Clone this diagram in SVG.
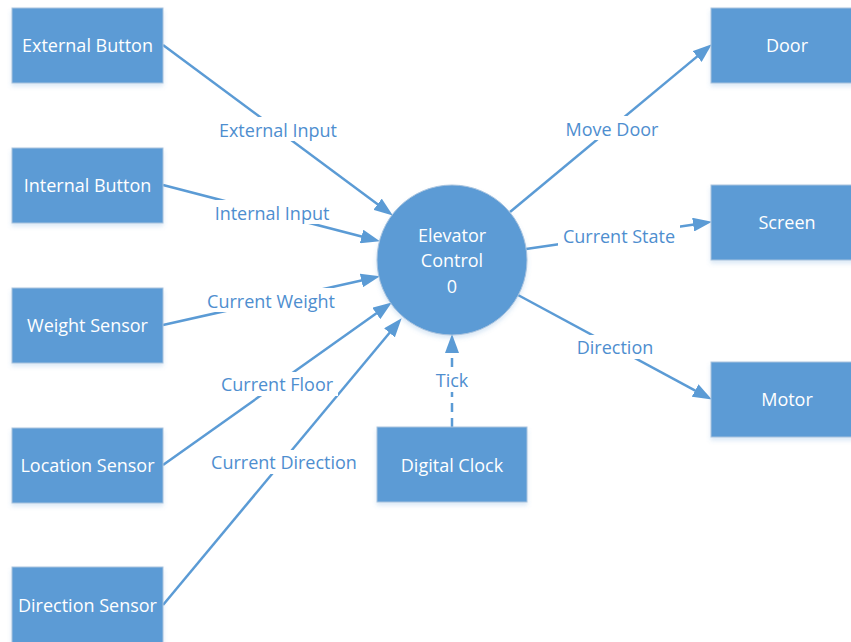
<svg xmlns="http://www.w3.org/2000/svg" width="851" height="642" viewBox="0 0 851 642">
  <defs>
    <filter id="shadow" x="-10%" y="-10%" width="120%" height="130%">
      <feDropShadow dx="0" dy="3" stdDeviation="2" flood-color="#5B9BD5" flood-opacity="0.22"/>
    </filter>
    <marker id="arrow" markerUnits="userSpaceOnUse" markerWidth="19" markerHeight="14" refX="8" refY="7" orient="auto">
      <path d="M0,0 L19,7 L0,14 z" fill="#5B9BD5"/>
    </marker>
  </defs>
  <style>
    .box { fill: #5B9BD5; stroke: #A9C3DE; stroke-width: 1; filter: url(#shadow); }
    .proc { fill: #5B9BD5; stroke: #A9C3DE; stroke-width: 1; filter: url(#shadow); }
    .ntext { font-family: "Open Sans", "Liberation Sans", Arial, sans-serif; font-size: 18px; fill: #FFFFFF; text-anchor: middle; }
    .flow { fill: none; stroke: #5B9BD5; stroke-width: 2.5; marker-end: url(#arrow); }
    .dash { stroke-dasharray: 9 6; }
    .lbg { fill: #FFFFFF; }
    .ltext { font-family: "Open Sans", "Liberation Sans", Arial, sans-serif; font-size: 18px; fill: #4E8ECF; text-anchor: middle; }
  </style>
  <rect width="851" height="642" fill="#FFFFFF"/>

  <!-- data flows -->
  <g id="connectors">
    <path class="flow" d="M163,45 L384,209"/>
    <path class="flow" d="M163,185 L369.3,238.5"/>
    <path class="flow" d="M163,325 L369.2,278.7"/>
    <path class="flow" d="M163,465 L382.8,308.8"/>
    <path class="flow" d="M163,605 L394.6,326.7"/>
    <path class="flow dash" d="M452,427 L452,345"/>
    <path class="flow" d="M510,212 L703.3,51.4"/>
    <path class="flow" d="M526,249 L701.1,223.4"/>
    <path class="flow" d="M518,295 L702.2,394.3"/>

    <!-- flow labels -->
    <rect class="lbg" x="214" y="117" width="128" height="24"/>
    <text class="ltext" x="278" y="137">External Input</text>
    <rect class="lbg" x="209" y="200" width="126" height="24"/>
    <text class="ltext" x="272" y="220">Internal Input</text>
    <rect class="lbg" x="201" y="288" width="140" height="24"/>
    <text class="ltext" x="271" y="308">Current Weight</text>
    <rect class="lbg" x="216" y="372" width="122" height="24"/>
    <text class="ltext" x="277" y="391">Current Floor</text>
    <rect class="lbg" x="205" y="450" width="158" height="24"/>
    <text class="ltext" x="284" y="469">Current Direction</text>
    <rect class="lbg" x="433" y="368" width="38" height="24"/>
    <text class="ltext" x="452" y="387">Tick</text>
    <rect class="lbg" x="559" y="116" width="106" height="24"/>
    <text class="ltext" x="612" y="136">Move Door</text>
    <rect class="lbg" x="558" y="224" width="122" height="24"/>
    <text class="ltext" x="619" y="243">Current State</text>
    <rect class="lbg" x="573" y="335" width="86" height="24"/>
    <text class="ltext" x="615" y="354">Direction</text>
  </g>

  <!-- external entities, left column -->
  <g id="external-button">
    <rect class="box" x="12" y="8" width="151" height="75"/>
    <text class="ntext" x="87.5" y="52">External Button</text>
  </g>
  <g id="internal-button">
    <rect class="box" x="12" y="148" width="151" height="75"/>
    <text class="ntext" x="87.5" y="192">Internal Button</text>
  </g>
  <g id="weight-sensor">
    <rect class="box" x="12" y="288" width="151" height="75"/>
    <text class="ntext" x="87.5" y="332">Weight Sensor</text>
  </g>
  <g id="location-sensor">
    <rect class="box" x="12" y="428" width="151" height="75"/>
    <text class="ntext" x="87.5" y="472">Location Sensor</text>
  </g>
  <g id="direction-sensor">
    <rect class="box" x="12" y="567" width="151" height="80"/>
    <text class="ntext" x="87.5" y="612">Direction Sensor</text>
  </g>

  <!-- clock below the process -->
  <g id="digital-clock">
    <rect class="box" x="377" y="427" width="150" height="75"/>
    <text class="ntext" x="452" y="472">Digital Clock</text>
  </g>

  <!-- central process -->
  <g id="elevator-control">
    <circle class="proc" cx="452" cy="260" r="75"/>
    <text class="ntext" x="452" y="242">Elevator</text>
    <text class="ntext" x="452" y="267">Control</text>
    <text class="ntext" x="452" y="293">0</text>
  </g>

  <!-- external entities, right column -->
  <g id="door">
    <rect class="box" x="711" y="8" width="145" height="75"/>
    <text class="ntext" x="787" y="52">Door</text>
  </g>
  <g id="screen">
    <rect class="box" x="711" y="185" width="145" height="75"/>
    <text class="ntext" x="787" y="229">Screen</text>
  </g>
  <g id="motor">
    <rect class="box" x="711" y="362" width="145" height="75"/>
    <text class="ntext" x="787" y="406">Motor</text>
  </g>
</svg>
